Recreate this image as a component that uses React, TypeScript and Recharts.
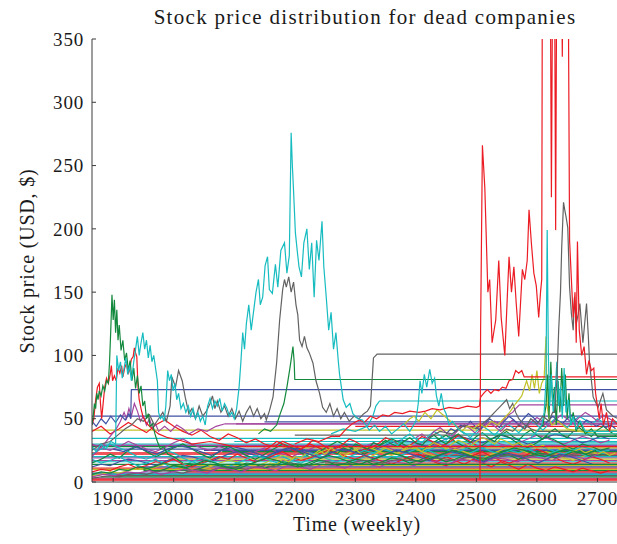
import { Line, LineChart, XAxis, YAxis } from "recharts";

type Pt = { w: number; v: number };

const WEEK_START = 1865;
const WEEK_END = 2734;
const weekTicks = [1900, 2000, 2100, 2200, 2300, 2400, 2500, 2600, 2700];
const priceTicks = [0, 50, 100, 150, 200, 250, 300, 350];

const RED = "#ec1c24";
const CYAN = "#17bcc0";
const GRAY = "#626262";
const GREEN = "#13893d";
const BLUE = "#3f51a3";
const PURPLE = "#a4459f";
const YELLOW = "#c2c22a";
const SERIF = '"Liberation Serif", "Times New Roman", serif';

// prices held constant after the company stopped trading: [first week, price]
const flatFrom = [1865, 1865, 1900, 1865, 1950, 1865, 2000, 1865, 1865, 1865, 2050, 1865, 1865, 2100, 1865, 2200, 1865, 2300, 2150, 1865, 2103, 1865, 1880, 1865, 2020, 1865, 1940, 1865, 2250, 1865, 1990, 1865, 2400, 1865, 2080, 1865, 2180, 1865, 2350];
const flatLevels = [1.5, 3, 5, 7, 9, 11, 13, 16, 19, 22, 25, 28, 30, 32, 34.5, 37, 41, 44, 47.5, 52, 46, 2.2, 4, 6, 8, 10, 12, 14, 15, 17, 18, 20, 21, 23, 24, 26, 27, 29, 31];

// weekly quotes of the stocks that stand out, [week, price]
const greenEarly = [[1865, 45], [1867, 52], [1869, 62], [1871, 58], [1873, 70], [1875, 65], [1877, 72], [1880, 68], [1883, 76], [1886, 72], [1889, 80], [1892, 78], [1894, 95], [1896, 120], [1898, 148], [1900, 128], [1902, 144], [1904, 118], [1906, 136], [1908, 112], [1910, 124], [1913, 104], [1916, 112], [1919, 96], [1922, 102], [1925, 88], [1928, 96], [1931, 80], [1934, 90], [1937, 74], [1940, 84], [1943, 70], [1946, 76], [1949, 60], [1952, 64], [1955, 50], [1958, 54], [1961, 44], [1965, 46], [1969, 38], [1973, 32], [1978, 26], [1983, 28], [1990, 22], [2000, 20], [2015, 15], [2040, 14], [2734, 14]];
const redEarly = [[1865, 45], [1868, 50], [1871, 65], [1874, 75], [1877, 78], [1879, 62], [1881, 50], [1883, 60], [1886, 75], [1889, 82], [1892, 78], [1895, 85], [1897, 92], [1899, 80], [1902, 84], [1905, 80], [1908, 90], [1911, 86], [1914, 92], [1916, 83], [1919, 90], [1922, 94], [1925, 86], [1927, 88], [1930, 97], [1933, 99], [1935, 106], [1937, 102], [1939, 99], [1941, 75], [1943, 65], [1946, 58], [1949, 52], [1953, 48], [1958, 45], [1965, 42], [1975, 38], [1990, 35], [2010, 33], [2030, 30], [2060, 32], [2100, 28], [2734, 28]];
const cyanMain = [[1865, 28], [1872, 24], [1880, 30], [1888, 26], [1896, 32], [1904, 30], [1906, 100], [1909, 88], [1912, 95], [1915, 82], [1918, 90], [1921, 98], [1924, 85], [1927, 92], [1930, 80], [1934, 95], [1937, 105], [1940, 115], [1943, 100], [1946, 110], [1949, 118], [1952, 105], [1955, 112], [1958, 98], [1961, 108], [1964, 95], [1967, 100], [1970, 90], [1973, 80], [1975, 55], [1978, 50], [1981, 52], [1984, 48], [1987, 60], [1990, 88], [1993, 80], [1996, 85], [1999, 72], [2002, 78], [2005, 65], [2008, 70], [2012, 58], [2016, 62], [2020, 55], [2024, 60], [2028, 52], [2032, 58], [2036, 50], [2040, 55], [2044, 48], [2048, 52], [2052, 45], [2056, 60], [2060, 66], [2064, 58], [2068, 64], [2072, 60], [2076, 66], [2080, 56], [2084, 62], [2088, 58], [2092, 52], [2096, 55], [2100, 50], [2104, 58], [2108, 75], [2111, 95], [2114, 118], [2117, 105], [2120, 125], [2124, 140], [2128, 120], [2132, 135], [2136, 150], [2140, 160], [2143, 140], [2147, 146], [2151, 171], [2155, 178], [2158, 152], [2163, 149], [2168, 172], [2172, 154], [2177, 183], [2183, 189], [2187, 165], [2191, 179], [2194, 276], [2196, 250], [2198, 230], [2201, 197], [2204, 183], [2207, 170], [2211, 162], [2215, 189], [2220, 200], [2224, 168], [2228, 189], [2232, 146], [2236, 191], [2240, 175], [2245, 206], [2248, 170], [2252, 146], [2256, 120], [2260, 134], [2264, 105], [2268, 118], [2272, 95], [2274, 85], [2280, 65], [2285, 59], [2291, 62], [2296, 54], [2304, 50], [2312, 49], [2323, 41], [2332, 45], [2340, 40], [2350, 44], [2360, 38], [2370, 42], [2380, 46], [2390, 40], [2400, 48], [2404, 62], [2407, 80], [2410, 70], [2414, 85], [2418, 75], [2423, 89], [2427, 78], [2431, 82], [2434, 68], [2438, 60], [2442, 70], [2446, 58], [2450, 54], [2455, 45], [2460, 48], [2470, 42], [2480, 38], [2734, 38]];
const grayMid = [[1865, 25], [1880, 30], [1895, 32], [1910, 38], [1920, 42], [1930, 45], [1940, 50], [1950, 48], [1960, 53], [1968, 45], [1975, 50], [1982, 55], [1988, 48], [1994, 60], [1997, 83], [2003, 75], [2008, 88], [2014, 80], [2019, 67], [2025, 54], [2030, 58], [2036, 50], [2042, 60], [2048, 52], [2054, 56], [2060, 62], [2064, 68], [2068, 58], [2072, 64], [2078, 55], [2084, 60], [2090, 52], [2096, 58], [2102, 50], [2108, 56], [2114, 48], [2120, 55], [2126, 60], [2132, 52], [2138, 58], [2144, 50], [2150, 54], [2153, 49], [2158, 56], [2164, 67], [2170, 94], [2175, 128], [2180, 152], [2183, 160], [2186, 154], [2190, 162], [2194, 150], [2198, 158], [2202, 140], [2205, 132], [2208, 112], [2212, 107], [2216, 115], [2220, 106], [2224, 102], [2230, 94], [2235, 80], [2241, 70], [2246, 59], [2252, 55], [2258, 62], [2264, 52], [2270, 58], [2276, 50], [2282, 55], [2290, 48], [2298, 52], [2306, 50], [2314, 54], [2320, 56], [2325, 60], [2327, 75], [2330, 98], [2336, 101], [2734, 101]];
const grayLate = [[2540, 38], [2550, 42], [2560, 40], [2570, 45], [2580, 42], [2590, 50], [2600, 46], [2610, 52], [2620, 48], [2626, 55], [2629, 55], [2633, 80], [2636, 120], [2639, 150], [2641, 185], [2644, 221], [2646, 215], [2648, 210], [2651, 201], [2654, 154], [2657, 133], [2660, 120], [2662, 146], [2665, 125], [2668, 132], [2671, 141], [2676, 110], [2682, 141], [2685, 115], [2687, 94], [2693, 67], [2701, 59], [2709, 70], [2715, 57], [2726, 52], [2734, 50]];
const redLate = [[2506, 2], [2507, 120], [2510, 266], [2514, 232], [2519, 150], [2522, 160], [2526, 110], [2532, 128], [2537, 175], [2541, 130], [2544, 115], [2547, 100], [2551, 145], [2554, 178], [2558, 150], [2562, 170], [2566, 140], [2570, 115], [2576, 168], [2580, 160], [2584, 175], [2587, 215], [2591, 188], [2595, 165], [2599, 155], [2603, 130], [2606, 150], [2608, 160], [2609, 400], [2615, 480], [2622, 420], [2624, 225], [2626, 410], [2629, 430], [2631, 199], [2633, 440], [2638, 480], [2641, 400], [2642, 336], [2643, 420], [2648, 460], [2652, 380], [2654, 191], [2657, 160], [2660, 130], [2663, 150], [2665, 110], [2667, 190], [2670, 120], [2674, 100], [2678, 107], [2682, 85], [2686, 96], [2690, 88], [2694, 90], [2697, 70], [2700, 60], [2703, 50], [2706, 62], [2710, 45], [2715, 55], [2720, 40], [2725, 50], [2734, 45]];
const redRise = [[2200, 30], [2220, 34], [2240, 32], [2260, 36], [2274, 36], [2285, 42], [2295, 46], [2307, 49], [2315, 47], [2325, 52], [2335, 50], [2345, 53], [2355, 52], [2365, 55], [2378, 54], [2390, 56], [2405, 55], [2416, 56], [2427, 58], [2440, 57], [2455, 59], [2470, 58], [2485, 60], [2500, 59], [2505, 60], [2507, 67], [2512, 70], [2518, 73], [2524, 70], [2530, 73], [2537, 72], [2543, 75], [2549, 74], [2554, 80], [2560, 81], [2565, 88], [2570, 86], [2575, 88], [2579, 83], [2734, 83]];
const greenStep = [[2140, 38], [2150, 42], [2160, 40], [2170, 45], [2176, 54], [2182, 62], [2187, 75], [2192, 90], [2195, 100], [2197, 107], [2199, 95], [2200, 81], [2734, 81]];
const blueStep = [[1865, 48], [1872, 44], [1880, 50], [1888, 46], [1896, 52], [1904, 47], [1912, 53], [1920, 49], [1926, 54], [1929, 50], [1930, 73], [2734, 73]];
const purpleStep = [[2520, 45], [2530, 48], [2540, 46], [2550, 52], [2560, 55], [2565, 58], [2571, 61], [2734, 61]];
const cyanStep = [[2260, 38], [2280, 42], [2300, 40], [2320, 44], [2329, 52], [2334, 60], [2340, 64], [2734, 64]];
const purpleEarly = [[1865, 20], [1875, 25], [1885, 30], [1895, 36], [1905, 42], [1912, 48], [1918, 55], [1922, 50], [1926, 58], [1930, 52], [1935, 62], [1940, 56], [1945, 48], [1950, 52], [1955, 45], [1960, 50], [1965, 42], [1970, 46], [1975, 40], [1985, 44], [1995, 40], [2005, 45], [2015, 42], [2025, 38], [2040, 42], [2055, 40], [2070, 44], [2085, 46], [2100, 46], [2734, 46]];
const yellowLate = [[2380, 45], [2390, 50], [2397, 52], [2405, 48], [2415, 55], [2425, 50], [2435, 57], [2445, 53], [2455, 49], [2465, 45], [2475, 40], [2485, 44], [2495, 42], [2505, 46], [2515, 43], [2525, 48], [2535, 45], [2545, 50], [2555, 55], [2565, 62], [2575, 68], [2583, 80], [2588, 72], [2592, 85], [2596, 74], [2600, 88], [2604, 70], [2608, 78], [2612, 82], [2615, 115], [2617, 60], [2620, 50], [2625, 45], [2635, 48], [2650, 42], [2670, 40], [2700, 38], [2734, 38]];
const grayLate2 = [[2420, 35], [2440, 40], [2460, 38], [2480, 45], [2500, 42], [2520, 50], [2530, 55], [2540, 60], [2550, 65], [2555, 58], [2560, 62], [2565, 55], [2570, 50], [2580, 45], [2590, 42], [2600, 40], [2734, 40]];
const greenBurst = [[2600, 40], [2610, 45], [2615, 60], [2618, 85], [2620, 50], [2623, 95], [2626, 60], [2629, 75], [2632, 45], [2635, 80], [2638, 55], [2641, 90], [2644, 60], [2647, 85], [2650, 50], [2653, 70], [2656, 45], [2660, 55], [2665, 40], [2670, 48], [2680, 38], [2690, 42], [2700, 36], [2734, 36]];
const cyanBurst = [[2590, 35], [2600, 40], [2608, 45], [2612, 55], [2615, 80], [2617, 199], [2619, 100], [2621, 60], [2624, 85], [2627, 55], [2630, 70], [2633, 95], [2636, 60], [2639, 75], [2642, 50], [2645, 90], [2648, 55], [2652, 65], [2656, 45], [2660, 52], [2665, 42], [2672, 48], [2680, 40], [2734, 40]];

// low priced stocks, sampled every few weeks from their first week
const lowRed1 = [8, 10, 9, 12, 14, 11, 13, 16, 15, 18, 14, 12, 15, 17, 20, 18, 22, 19, 16, 18, 21, 24, 20, 17, 19, 22, 25, 23, 20, 18, 21, 19, 16, 14, 17, 20, 22, 18, 15, 13, 16, 19, 21, 24, 20, 17, 15, 18, 22, 26, 23, 19, 16, 14, 17, 20, 18, 15];
const lowGreen1 = [15, 18, 22, 19, 25, 28, 24, 20, 23, 27, 30, 26, 22, 19, 24, 28, 25, 21, 18, 22, 26, 30, 27, 23, 20, 24, 28, 32, 29, 25, 22, 26, 30, 34, 31, 27, 24, 28, 33, 37, 32, 28, 25, 29, 34, 38, 35, 30, 27, 31, 36, 33, 29, 26, 30, 28, 25, 27];
const lowCyan1 = [22, 26, 30, 27, 24, 20, 18, 21, 25, 23, 19, 16, 14, 17, 20, 18, 15, 13, 16, 19, 22, 20, 17, 15, 18, 21, 24, 22, 19, 17, 20, 23, 26, 24, 21, 19, 22, 25, 28, 26, 23, 21, 24, 27, 30, 28, 25, 23, 26, 29, 27, 24, 22, 25, 28, 26, 24, 25];
const lowPurple1 = [30, 27, 25, 28, 32, 29, 26, 24, 27, 31, 34, 30, 27, 25, 28, 26, 23, 21, 24, 27, 25, 22, 20, 23, 26, 29, 27, 24, 22, 25, 28, 31, 29, 26, 24, 27, 30, 33, 31, 28, 26, 29, 32, 35, 33, 30, 28, 31, 34, 37, 35, 32, 30, 33, 36, 34, 31, 33];
const lowYellow1 = [5, 6, 8, 7, 9, 11, 10, 12, 14, 13, 11, 9, 10, 12, 15, 17, 16, 14, 12, 15, 18, 21, 19, 17, 20, 23, 26, 24, 22, 25, 28, 26, 23, 21, 24, 27, 25, 22, 20, 23, 26, 24, 21, 19, 22, 25, 28, 26, 23, 21, 24, 22, 19, 17, 20, 23, 21, 22];
const lowBlue1 = [12, 14, 13, 16, 18, 17, 15, 13, 16, 19, 21, 20, 18, 16, 19, 22, 24, 23, 21, 19, 22, 25, 27, 26, 24, 22, 25, 28, 30, 29, 27, 25, 28, 31, 33, 32, 30, 28, 31, 34, 36, 35, 33, 31, 34, 37, 35, 33, 30, 32, 35, 38, 36, 34, 31, 33, 36, 34];
const lowGray1 = [3, 4, 5, 4, 6, 7, 6, 8, 9, 8, 7, 9, 10, 9, 11, 12, 11, 10, 12, 13, 12, 14, 15, 14, 13, 15, 16, 15, 14, 16, 17, 16, 15, 17, 18, 17, 16, 18, 19, 18, 17, 19, 20, 19, 18, 20, 21, 20, 19, 21, 22, 21, 20, 22, 23, 22, 21, 22];
const lowGreen3 = [6, 8, 7, 10, 9, 12, 11, 8, 10, 13, 12, 9, 11, 14, 13, 10, 12, 15, 14, 11, 13, 16, 15, 12, 14, 17, 16, 13, 15, 18, 17, 14, 16, 19, 18, 15, 17, 20, 19, 16, 18, 21, 20, 17, 19, 22, 21, 18, 20, 23, 22, 19, 21, 24, 23, 20, 22, 21];
const lowRed3 = [40, 44, 38, 42, 47, 43, 39, 45, 49, 44, 40, 37, 41, 36, 33, 38, 35, 31, 34, 30, 28, 32, 29, 26, 30, 27, 24, 28, 25, 22, 26, 23, 20, 24, 21, 18, 22, 19, 16, 20, 17, 14, 18, 15, 12, 16, 13, 10, 14, 11, 9, 12, 10, 8, 11, 9, 7, 9];
const lowCyan3 = [18, 15, 17, 20, 16, 13, 15, 18, 14, 11, 13, 16, 19, 17, 14, 12, 15, 18, 21, 19, 16, 14, 17, 20, 23, 21, 18, 16, 19, 22, 25, 23, 20, 18, 21, 24, 27, 25, 22, 20, 23, 26, 29, 27, 24, 22, 25, 28, 26, 23, 21, 24, 27, 25, 22, 20, 23, 21];
const lowRed2 = [25, 28, 32, 30, 27, 24, 26, 29, 33, 31, 28, 25, 27, 30, 34, 32, 29, 26, 28, 31, 35, 33, 30, 27, 29, 32, 36, 34, 31, 28, 30, 33, 37, 35, 32, 29];
const lowGreen2 = [20, 24, 22, 27, 25, 30, 28, 26, 31, 29, 33, 30, 28, 32, 35, 31, 29, 34, 37, 33, 30, 35, 38, 34, 31, 36, 39, 35, 32, 37, 40, 36, 33, 38, 41, 37, 34, 39, 42, 38, 35, 40, 43, 39, 36, 41, 44, 40, 37, 42];
const lowCyan2 = [30, 33, 29, 35, 38, 34, 31, 36, 40, 37, 33, 38, 42, 39, 35, 40, 44, 41, 37, 42, 46, 43, 39, 44, 48, 45, 41, 46, 50, 47, 43, 48, 52, 49, 45, 50, 47, 44, 48, 45];
const lowPurple2 = [35, 38, 34, 40, 43, 39, 36, 41, 45, 42, 38, 43, 47, 44, 40, 45, 49, 46, 42, 47, 51, 48, 44, 49, 53, 50, 46, 51, 55, 52, 48, 53, 50, 47];
const lowBlue2 = [38, 42, 40, 45, 43, 48, 44, 41, 46, 50, 47, 43, 48, 52, 49, 45, 50, 54, 51, 47, 44, 48, 52, 49, 46, 50, 53, 48, 45, 49, 47, 44, 46, 43, 45, 42];
const lowYellow2 = [12, 15, 14, 18, 16, 20, 19, 23, 21, 25, 22, 27, 24, 20, 23, 26, 22, 19, 21, 24, 27, 25, 22, 26, 29, 27, 24, 28, 31, 29, 26, 30, 33, 31, 28, 32, 35, 33, 30, 34, 32, 29, 31, 28, 30, 27, 29, 26, 28, 25, 27, 24, 26, 23, 25, 22, 24, 21, 23];
const lowPurple3 = [4, 6, 5, 8, 7, 9, 6, 8, 10, 9, 7, 11, 10, 8, 12, 11, 9, 13, 12, 10, 14, 13, 11, 15, 14, 12, 16, 15, 13, 17, 16, 14, 18, 17, 15, 19, 18, 16, 20, 19, 17, 21, 20, 18, 22];
const lowBlue3 = [26, 24, 28, 25, 22, 26, 29, 27, 24, 21, 25, 28, 26, 23, 20, 24, 27, 25, 22, 19, 23, 26, 24, 21, 18, 22, 25, 23, 20, 17, 21, 24, 22, 19, 16, 20, 23, 21, 18, 15, 19, 22, 20, 17, 14];
const lowGreen4 = [10, 12, 15, 13, 11, 14, 17, 15, 12, 10, 13, 16, 19, 17, 14, 12, 15, 18, 21, 19, 16, 14, 17, 20, 23, 21, 18, 16, 19, 22, 25, 23, 20, 18, 21, 24, 27, 25, 22, 20, 23, 26, 24, 22, 25];

const pairs = (rows: number[][]): Pt[] => rows.map(([w, v]) => ({ w, v }));
const sampled = (from: number, step: number, vals: number[]): Pt[] => vals.map((v, i) => ({ w: from + i * step, v }));

const cycle = [RED, PURPLE, GRAY, BLUE, GREEN, RED, YELLOW, CYAN, PURPLE, RED, BLUE, GREEN, CYAN, CYAN, CYAN, GRAY, YELLOW, RED, BLUE, BLUE, PURPLE, RED, GREEN, CYAN, RED, YELLOW, BLUE, GREEN, RED, PURPLE, YELLOW, CYAN, GRAY, RED, GREEN, BLUE, YELLOW, PURPLE, CYAN];

const series: { data: Pt[]; color: string }[] = [
  ...flatLevels.map((v, i) => ({ data: pairs([[flatFrom[i], v], [WEEK_END, v]]), color: cycle[i] })),
  { data: sampled(1865, 15, lowRed3), color: RED },
  { data: sampled(1865, 15, lowPurple1), color: PURPLE },
  { data: sampled(1865, 15, lowBlue1), color: BLUE },
  { data: sampled(1865, 15, lowGreen1), color: GREEN },
  { data: sampled(1865, 15, lowCyan1), color: CYAN },
  { data: sampled(1865, 15, lowYellow1), color: YELLOW },
  { data: sampled(1865, 15, lowRed1), color: RED },
  { data: sampled(1865, 15, lowCyan3), color: CYAN },
  { data: sampled(1865, 15, lowGreen3), color: GREEN },
  { data: sampled(1865, 15, lowGray1), color: GRAY },
  { data: sampled(2150, 10, lowRed2), color: RED },
  { data: sampled(2150, 10, lowYellow2), color: YELLOW },
  { data: sampled(2250, 10, lowGreen2), color: GREEN },
  { data: sampled(2350, 10, lowCyan2), color: CYAN },
  { data: sampled(2400, 10, lowPurple2), color: PURPLE },
  { data: sampled(2450, 8, lowBlue2), color: BLUE },
  { data: sampled(1865, 19, lowPurple3), color: PURPLE },
  { data: sampled(1900, 18, lowBlue3), color: BLUE },
  { data: sampled(1950, 17, lowGreen4), color: GREEN },
  { data: pairs(purpleEarly), color: PURPLE },
  { data: pairs(blueStep), color: BLUE },
  { data: pairs(purpleStep), color: PURPLE },
  { data: pairs(cyanStep), color: CYAN },
  { data: pairs(grayLate2), color: GRAY },
  { data: pairs(yellowLate), color: YELLOW },
  { data: pairs(greenStep), color: GREEN },
  { data: pairs(redRise), color: RED },
  { data: pairs(grayMid), color: GRAY },
  { data: pairs(redEarly), color: RED },
  { data: pairs(greenEarly), color: GREEN },
  { data: pairs(cyanMain), color: CYAN },
  { data: pairs(greenBurst), color: GREEN },
  { data: pairs(cyanBurst), color: CYAN },
  { data: pairs(grayLate), color: GRAY },
  { data: pairs(redLate), color: RED },
];

const AXIS = "#3a3a3a";
const tickText = { fill: "#1a1a1a", fontSize: 19, fontFamily: SERIF, letterSpacing: 0.8 };
const blank = () => "";

export default function App() {
  return (
    <div style={{ position: "absolute", left: 0, top: 0, width: 617, height: 544, overflow: "hidden", background: "#fff", fontFamily: SERIF, color: "#1a1a1a" }}>
      <LineChart width={630} height={544} margin={{ top: 39, right: 12, bottom: 0, left: 0 }}>
        <XAxis xAxisId="b" dataKey="w" type="number" domain={[WEEK_START, WEEK_END]} allowDataOverflow ticks={weekTicks} interval={0} height={62} tickSize={-4} tickMargin={14} stroke={AXIS} tick={tickText} />
        <XAxis xAxisId="t" orientation="top" dataKey="w" type="number" domain={[WEEK_START, WEEK_END]} allowDataOverflow ticks={weekTicks} interval={0} height={0} tickSize={-4} stroke={AXIS} tickFormatter={blank} />
        <YAxis yAxisId="l" type="number" domain={[0, 350]} allowDataOverflow ticks={priceTicks} interval={0} width={92} tickSize={-4} tickMargin={12} stroke={AXIS} tick={tickText} />
        <YAxis yAxisId="r" orientation="right" type="number" domain={[0, 350]} allowDataOverflow ticks={priceTicks} interval={0} width={0} tickSize={-4} stroke={AXIS} tickFormatter={blank} />
        {series.map((s, i) => (
          <Line key={i} xAxisId="b" yAxisId="l" data={s.data} dataKey="v" type="linear" stroke={s.color} strokeWidth={1.2} dot={false} activeDot={false} isAnimationActive={false} />
        ))}
      </LineChart>
      <div style={{ position: "absolute", top: 5, left: 92, width: 546, textAlign: "center", fontSize: 21, letterSpacing: 1.3, whiteSpace: "nowrap" }}>
        Stock price distribution for dead companies
      </div>
      <div style={{ position: "absolute", top: 513, left: 92, width: 530, textAlign: "center", fontSize: 20, letterSpacing: 0.8, whiteSpace: "nowrap" }}>
        Time (weekly)
      </div>
      <div style={{ position: "absolute", left: 27, top: 261, transform: "translate(-50%, -50%) rotate(-90deg)", fontSize: 20, letterSpacing: 0.8, whiteSpace: "nowrap" }}>
        Stock price (USD, $)
      </div>
    </div>
  );
}
